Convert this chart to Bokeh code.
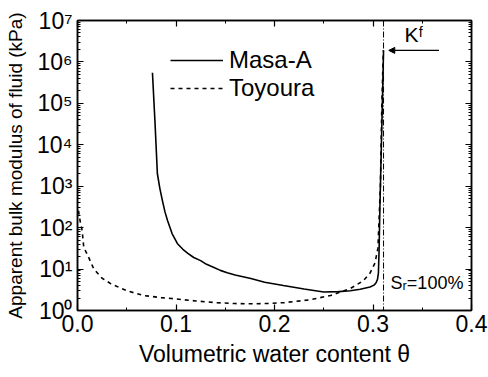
from bokeh.plotting import figure
from bokeh.models import (LogAxis, LinearAxis, FixedTicker, Legend, LegendItem,
                          Arrow, NormalHead, Span, Label)
from bokeh.embed import file_html
from bokeh.resources import INLINE

# ---- data ----
masa_theta = [0.0761, 0.0786, 0.0811, 0.0836, 0.0862, 0.0888, 0.0914, 0.096,
              0.1015, 0.107, 0.112, 0.118, 0.125, 0.131, 0.138, 0.145, 0.152,
              0.16, 0.176, 0.19, 0.209, 0.23, 0.25, 0.265, 0.277, 0.287,
              0.297, 0.301, 0.303, 0.3045, 0.3055, 0.3062, 0.307, 0.309, 0.3107]
masa_k = [5.5e5, 3.8e4, 2000, 890, 450, 240, 148, 72,
          41, 30, 24, 19, 16, 13, 11, 9.3, 8.2,
          7.2, 5.9, 4.8, 4.0, 3.3, 2.8, 2.85, 3.0, 3.25,
          3.7, 4.1, 4.6, 5.6, 8, 30, 300, 3.0e4, 1.9e6]

toyo_theta = [0.001, 0.003, 0.0047, 0.0064, 0.0098, 0.0166, 0.025, 0.034, 0.05,
              0.067, 0.085, 0.1, 0.12, 0.14, 0.16, 0.176, 0.195, 0.21, 0.235,
              0.257, 0.277, 0.29, 0.297, 0.302, 0.305, 0.3075, 0.309, 0.3105]
toyo_k = [256, 130, 85, 33, 23, 10, 6.0, 4.4, 3.0,
          2.3, 2.05, 1.9, 1.7, 1.55, 1.47, 1.45, 1.48, 1.55, 1.8,
          2.3, 3.4, 5.2, 8, 14, 32, 1000, 1.0e5, 1.9e6]

theta_sat = 0.3107          # Sr = 100 %
k_fluid = 1.9e6             # K^f
arrow_theta = [0.316, 0.367]

x_ticks = [0.0, 0.1, 0.2, 0.3, 0.4]
x_tick_labels = ["0.0", "0.1", "0.2", "0.3", "0.4"]
x_minor = [0.05, 0.15, 0.25, 0.35]
y_ticks = [1, 10, 100, 1e3, 1e4, 1e5, 1e6, 1e7]
y_tick_labels = ["10⁰", "10¹", "10²", "10³", "10⁴", "10⁵", "10⁶", "10⁷"]
y_minor = [m * 10 ** e for e in range(7) for m in range(2, 10)]

FONT = "Liberation Sans"

p = figure(width=488, height=377, x_range=(0, 0.4), y_range=(1, 1e7),
           y_axis_type="log", output_backend="svg", toolbar_location=None,
           min_border_left=77, min_border_right=17, min_border_top=20,
           min_border_bottom=67)
p.xgrid.visible = False
p.ygrid.visible = False
p.outline_line_color = "black"
p.outline_line_width = 1.5
p.background_fill_color = "white"
p.border_fill_color = "white"

xt = FixedTicker(ticks=x_ticks, minor_ticks=x_minor)
yt = FixedTicker(ticks=y_ticks, minor_ticks=y_minor)


def style(ax):
    ax.axis_line_color = "black"
    ax.axis_line_width = 1.5
    ax.major_tick_in = 6
    ax.major_tick_out = 0
    ax.minor_tick_in = 3
    ax.minor_tick_out = 0
    ax.major_tick_line_color = "black"
    ax.minor_tick_line_color = "black"
    ax.major_tick_line_width = 1.2
    ax.major_label_text_font = FONT
    ax.major_label_text_color = "black"
    ax.major_label_text_font_size = "23px"


xa = p.xaxis[0]
xa.ticker = xt
xa.major_label_overrides = {v: s for v, s in zip(x_ticks, x_tick_labels)}
style(xa)
xa.major_label_standoff = 4
xa.axis_label = "Volumetric water content θ"
xa.axis_label_text_font = FONT
xa.axis_label_text_font_size = "23px"
xa.axis_label_text_font_style = "normal"
xa.axis_label_text_color = "black"
xa.axis_label_standoff = 6

ya = p.yaxis[0]
ya.ticker = yt
ya.major_label_overrides = {v: s for v, s in zip(y_ticks, y_tick_labels)}
style(ya)
ya.major_label_standoff = 5
ya.axis_label = "Apparent bulk modulus of fluid (kPa)"
ya.axis_label_text_font = FONT
ya.axis_label_text_font_size = "19px"
ya.axis_label_text_font_style = "normal"
ya.axis_label_text_color = "black"
ya.axis_label_standoff = 8

top = LinearAxis(ticker=FixedTicker(ticks=x_ticks, minor_ticks=x_minor))
style(top)
top.major_label_overrides = {v: "" for v in x_ticks}
top.major_label_standoff = 0
p.add_layout(top, "above")

right = LogAxis(ticker=FixedTicker(ticks=y_ticks, minor_ticks=y_minor))
style(right)
right.major_label_overrides = {v: "" for v in y_ticks}
right.major_label_standoff = 0
p.add_layout(right, "right")

r_masa = p.line(masa_theta, masa_k, line_color="black", line_width=1.6)
r_toyo = p.line(toyo_theta, toyo_k, line_color="black", line_width=1.6,
                line_dash="4 4")

p.add_layout(Span(location=theta_sat, dimension="height", line_color="black",
                  line_width=1, line_dash="6 2 1 2"))

p.add_layout(Arrow(end=NormalHead(size=6, fill_color="black", line_color="black"),
                   x_start=arrow_theta[1], y_start=k_fluid,
                   x_end=arrow_theta[0], y_end=k_fluid,
                   line_color="black", line_width=1.2))
p.add_layout(Label(x=sum(arrow_theta) / 2, y=k_fluid, y_offset=4, text="Kᶠ",
                   text_align="center", text_baseline="bottom",
                   text_font=FONT, text_font_size="21px", text_color="black"))
p.add_layout(Label(x=theta_sat, y=4.7, x_offset=7, text="Sᵣ=100%",
                   text_align="left", text_baseline="middle",
                   text_font=FONT, text_font_size="18px", text_color="black"))

legend = Legend(items=[LegendItem(label="Masa-A", renderers=[r_masa]),
                       LegendItem(label="Toyoura", renderers=[r_toyo])],
                location=(93, 208), padding=0, margin=0, spacing=0,
                glyph_width=53, glyph_height=20, label_height=20,
                label_standoff=6, label_text_font=FONT,
                label_text_color="black",
                label_text_font_size="24px", border_line_color=None,
                background_fill_alpha=0)
p.add_layout(legend)

open("out.html", "w").write(file_html(p, INLINE))
